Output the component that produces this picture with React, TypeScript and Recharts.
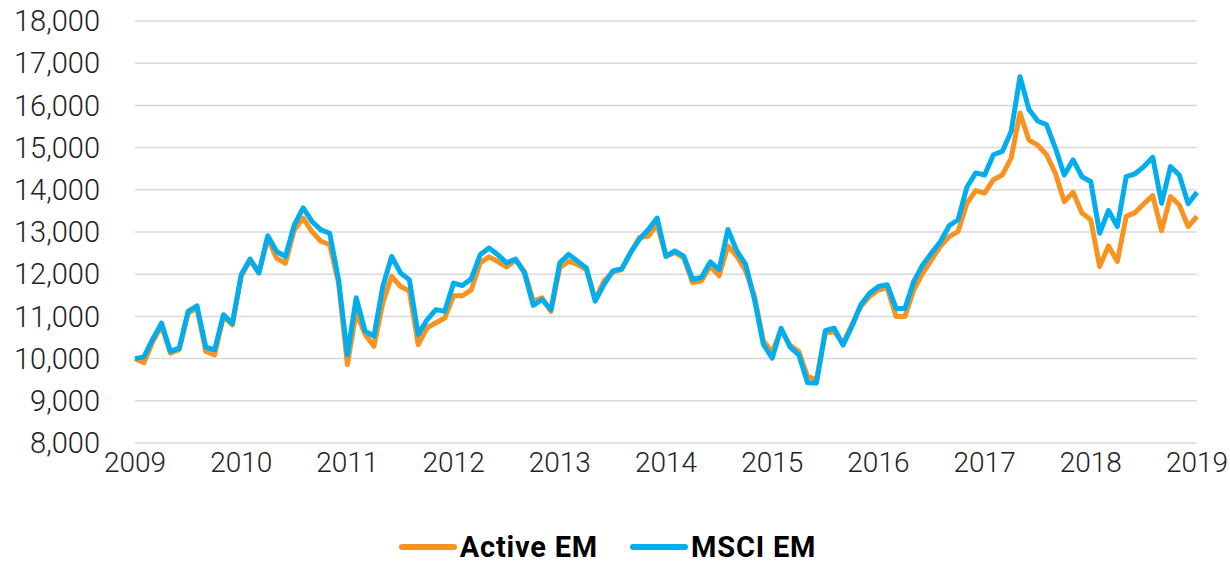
import { LineChart, Line, XAxis, YAxis, CartesianGrid, Legend } from "recharts";

// monthly, Jan 2009 .. Jan 2019
const activeEM = [
  10000, 9900, 10400, 10780, 10130, 10210, 11080, 11200, 10170, 10090, 11000, 10800,
  11950, 12330, 12030, 12850, 12380, 12260, 13050, 13330, 13010, 12780, 12700, 11790,
  9860, 11100, 10570, 10290, 11320, 11950, 11710, 11600, 10330, 10730, 10850, 10960,
  11490, 11490, 11630, 12270, 12410, 12300, 12170, 12340, 12070, 11360, 11440, 11120,
  12150, 12310, 12230, 12110, 11400, 11840, 12050, 12110, 12510, 12870, 12900, 13180,
  12430, 12510, 12390, 11800, 11840, 12190, 11960, 12670, 12430, 12080, 11480, 10420,
  10150, 10680, 10320, 10170, 9570, 9500, 10600, 10640, 10360, 10800, 11230, 11470,
  11630, 11670, 11000, 11000, 11630, 12020, 12340, 12660, 12890, 13010, 13680, 13980,
  13920, 14240, 14350, 14750, 15820, 15180, 15060, 14830, 14390, 13720, 13940, 13450,
  13290, 12180, 12670, 12300, 13370, 13460, 13670, 13860, 13030, 13840, 13640, 13130,
  13370,
];

const msciEM = [
  10000, 10040, 10460, 10840, 10170, 10250, 11120, 11250, 10270, 10210, 11040, 10830,
  11990, 12360, 12030, 12910, 12540, 12420, 13170, 13570, 13250, 13050, 12970, 11870,
  10090, 11440, 10650, 10530, 11710, 12420, 12030, 11870, 10570, 10920, 11160, 11120,
  11790, 11730, 11890, 12460, 12620, 12460, 12270, 12360, 12040, 11260, 11400, 11160,
  12270, 12470, 12310, 12150, 11360, 11760, 12080, 12130, 12510, 12830, 13060, 13330,
  12420, 12550, 12430, 11880, 11920, 12290, 12110, 13060, 12550, 12230, 11400, 10340,
  10010, 10720, 10280, 10090, 9430, 9420, 10660, 10720, 10320, 10760, 11270, 11550,
  11710, 11750, 11190, 11190, 11830, 12220, 12500, 12770, 13150, 13290, 14060, 14400,
  14350, 14830, 14910, 15380, 16680, 15910, 15630, 15540, 14990, 14350, 14710, 14310,
  14190, 12970, 13510, 13130, 14310, 14380, 14550, 14770, 13680, 14550, 14350, 13670,
  13940,
];

const years = ["2009", "2010", "2011", "2012", "2013", "2014", "2015", "2016", "2017", "2018", "2019"];
const yTicks = [8000, 9000, 10000, 11000, 12000, 13000, 14000, 15000, 16000, 17000, 18000];

const data = activeEM.map((v, i) => ({ t: i, active: v, msci: msciEM[i] }));
const xTicks = years.map((_, i) => i * 12);

const FONT = "Roboto, 'DejaVu Sans', sans-serif";

function LegendContent() {
  const item = (color: string, label: string) => (
    <div style={{ display: "flex", alignItems: "center", margin: "0 16px" }}>
      <svg width={58} height={10} style={{ marginRight: 3 }}>
        <line x1={3} y1={5} x2={55} y2={5} stroke={color} strokeWidth={6} strokeLinecap="round" />
      </svg>
      <span style={{ fontWeight: 700, fontSize: 29, letterSpacing: 0.8, color: "#000", fontFamily: FONT }}>{label}</span>
    </div>
  );
  return (
    <div style={{ display: "flex", justifyContent: "center", alignItems: "center", height: 60, paddingTop: 14 }}>
      {item("#F7931E", "Active EM")}
      {item("#00AEEF", "MSCI EM")}
    </div>
  );
}

export default function App() {
  return (
    <>
      <style>{"body{margin:0}"}</style>
      <LineChart width={1230} height={563} data={data} margin={{ top: 21, right: 33, left: 18, bottom: 0 }}>
        <CartesianGrid vertical={false} stroke="#d9d9d9" strokeWidth={1.5} />
        <XAxis
          dataKey="t"
          type="number"
          domain={[0, 120]}
          ticks={xTicks}
          tickFormatter={(v: number) => years[v / 12]}
          axisLine={false}
          tickLine={false}
          tickSize={0}
          tickMargin={9}
          height={60}
          tick={{ fontSize: 28, fill: "#222", fontFamily: FONT, fontWeight: 300 }}
        />
        <YAxis
          domain={[8000, 18000]}
          ticks={yTicks}
          tickFormatter={(v: number) => v.toLocaleString("en-US")}
          axisLine={false}
          tickLine={false}
          tickSize={0}
          tickMargin={35}
          width={117}
          tick={{ fontSize: 29, fill: "#222", fontFamily: FONT, fontWeight: 300 }}
        />
        <Legend verticalAlign="bottom" content={<LegendContent />} wrapperStyle={{ height: 60 }} />
        <Line dataKey="active" name="Active EM" stroke="#F7931E" strokeWidth={5} dot={false} isAnimationActive={false} strokeLinejoin="round" />
        <Line dataKey="msci" name="MSCI EM" stroke="#00AEEF" strokeWidth={5} dot={false} isAnimationActive={false} strokeLinejoin="round" />
      </LineChart>
    </>
  );
}
